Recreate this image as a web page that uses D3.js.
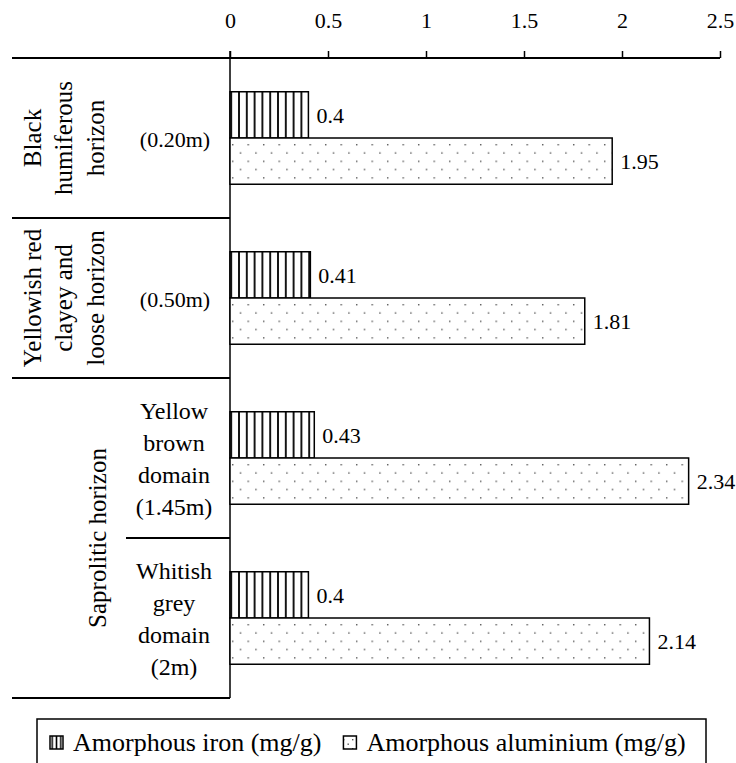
<!DOCTYPE html>
<html>
<head>
<meta charset="utf-8">
<script src="https://cdn.jsdelivr.net/npm/d3@7"></script>
<style>
  body { margin: 0; background: #fff; }
  svg { display: block; font-family: "Liberation Serif", "Times New Roman", serif; }
</style>
</head>
<body>
<div id="chart"></div>
<script>
// soil profile rows (top to bottom)
const rows = ["r1", "r2", "r3", "r4"];
const rowLabels = [["(0.20m)"], ["(0.50m)"], ["Yellow", "brown", "domain", "(1.45m)"], ["Whitish", "grey", "domain", "(2m)"]];
const horizons = [["Black", "humiferous", "horizon"], ["Yellowish red", "clayey and", "loose horizon"], ["Saprolitic horizon"]];
const horizonRows = [1, 1, 2];
const series = ["Amorphous iron (mg/g)", "Amorphous aluminium (mg/g)"];
const ironValues = [0.4, 0.41, 0.43, 0.4];
const aluminiumValues = [1.95, 1.81, 2.34, 2.14];
const xTicks = [0, 0.5, 1, 1.5, 2, 2.5];

const width = 736, height = 763;
const mLeft = 12, axisX = 230, mRight = 720, mTop = 58, mBottom = 698;

const svg = d3.select("#chart").append("svg")
	.attr("width", width)
	.attr("height", height);

const defs = svg.append("defs");

function addStripes(id, x0, step, w) {
	const p = defs.append("pattern")
		.attr("id", id)
		.attr("patternUnits", "userSpaceOnUse")
		.attr("x", x0)
		.attr("width", step)
		.attr("height", 10);
	p.append("rect").attr("width", step).attr("height", 10).attr("fill", "#fff");
	p.append("rect").attr("x", (step - w) / 2).attr("width", w).attr("height", 10).attr("fill", "#000");
}

function addDots(id, x0, y0, w, h) {
	const p = defs.append("pattern")
		.attr("id", id)
		.attr("patternUnits", "userSpaceOnUse")
		.attr("x", x0)
		.attr("y", y0)
		.attr("width", w)
		.attr("height", h);
	p.append("rect").attr("width", w).attr("height", h).attr("fill", "#fff");
	p.append("rect").attr("x", 1).attr("y", 1).attr("width", 1.4).attr("height", 1.4).attr("fill", "#555");
	p.append("rect").attr("x", w / 2 + 1).attr("y", h / 2 + 1).attr("width", 1.4).attr("height", 1.4).attr("fill", "#555");
}

// bar fills
addStripes("stripes", 235.1, 7.8, 1.8);
addDots("dots", 231, 2, 15.5, 16.6);
// legend swatch fills
addStripes("stripesLeg", 50, 4.33, 1.5);
addDots("dotsLeg", 0, 0, 9, 9);

const fills = ["url(#stripes)", "url(#dots)"];
const legFills = ["url(#stripesLeg)", "url(#dotsLeg)"];

const x = d3.scaleLinear().domain([0, 2.5]).range([axisX, mRight]);
const y0 = d3.scaleBand().domain(rows).range([mTop, mBottom]).padding(0);
const y1 = d3.scaleBand().domain(series).range([0, y0.bandwidth()]).paddingInner(0).paddingOuter(0.73);

const data = rows.map((r, i) => ({ row: r, values: [ironValues[i], aluminiumValues[i]] }));

// top axis
const axis = d3.axisTop(x)
	.tickValues(xTicks)
	.tickFormat(d3.format("~g"))
	.tickSize(7)
	.tickPadding(23);

const ax = svg.append("g")
	.attr("transform", `translate(0,${mTop})`)
	.call(axis);
ax.select(".domain").remove();
ax.selectAll(".tick line").attr("stroke", "#000").attr("stroke-width", 1.5);
ax.selectAll(".tick text").attr("font-size", 22).attr("font-family", "Liberation Serif").attr("fill", "#000");

svg.append("line")
	.attr("x1", mLeft).attr("x2", mRight)
	.attr("y1", mTop).attr("y2", mTop)
	.attr("stroke", "#000").attr("stroke-width", 2);

// vertical zero line
svg.append("line")
	.attr("x1", x(0)).attr("x2", x(0))
	.attr("y1", mTop - 7).attr("y2", mBottom)
	.attr("stroke", "#000").attr("stroke-width", 1.5);

// bars
const groups = svg.selectAll(".row")
	.data(data)
	.enter().append("g")
	.attr("transform", d => `translate(0,${y0(d.row)})`);

groups.selectAll("rect")
	.data(d => d.values.map((v, i) => ({ key: series[i], value: v, i })))
	.enter().append("rect")
	.attr("x", x(0))
	.attr("y", d => y1(d.key))
	.attr("width", d => x(d.value) - x(0))
	.attr("height", y1.bandwidth())
	.attr("fill", d => fills[d.i])
	.attr("stroke", "#000")
	.attr("stroke-width", 1.5);

groups.selectAll(".val")
	.data(d => d.values.map((v, i) => ({ key: series[i], value: v })))
	.enter().append("text")
	.attr("x", d => x(d.value) + 8)
	.attr("y", d => y1(d.key) + y1.bandwidth() / 2)
	.attr("dy", "0.35em")
	.attr("font-size", 22)
	.text(d => d.value);

// row labels (depth / domain)
rowLabels.forEach((lines, i) => {
	const cy = y0(rows[i]) + y0.bandwidth() / 2 + 1;
	const lh = 32;
	const t = svg.append("text")
		.attr("text-anchor", "middle")
		.attr("font-size", lines.length > 1 ? 24 : 22);
	lines.forEach((s, j) => {
		t.append("tspan")
			.attr("x", lines.length > 1 ? 174 : 175)
			.attr("y", cy + (j - (lines.length - 1) / 2) * lh)
			.attr("dy", "0.35em")
			.text(s);
	});
});

// horizon labels, rotated
let start = 0;
horizons.forEach((lines, k) => {
	const n = horizonRows[k];
	const yTop = y0(rows[start]);
	const yBot = y0(rows[start + n - 1]) + y0.bandwidth();
	const cy = (yTop + yBot) / 2;
	const lh = 31.5;
	const cx = lines.length === 1 ? 97 : 63.5;
	const t = svg.append("text")
		.attr("text-anchor", "middle")
		.attr("font-size", 25)
		.attr("transform", `translate(${cx},${cy}) rotate(-90)`);
	lines.forEach((s, j) => {
		t.append("tspan")
			.attr("x", 0)
			.attr("y", (j - (lines.length - 1) / 2) * lh)
			.attr("dy", "0.35em")
			.text(s);
	});
	// separator under each horizon
	svg.append("line")
		.attr("x1", mLeft).attr("x2", x(0))
		.attr("y1", yBot).attr("y2", yBot)
		.attr("stroke", "#000").attr("stroke-width", 2);
	// inner row dividers inside a horizon
	for (let r = 1; r < n; r++) {
		const yy = y0(rows[start + r]);
		svg.append("line")
			.attr("x1", 126).attr("x2", x(0))
			.attr("y1", yy).attr("y2", yy)
			.attr("stroke", "#000").attr("stroke-width", 2);
	}
	start += n;
});

// legend
const leg = svg.append("g");
leg.append("rect")
	.attr("x", 37).attr("y", 719)
	.attr("width", 706 - 37).attr("height", 60)
	.attr("fill", "none").attr("stroke", "#000").attr("stroke-width", 1.5);

let lx = 50;
series.forEach((s, i) => {
	leg.append("rect")
		.attr("x", lx).attr("y", 736)
		.attr("width", 13).attr("height", 13)
		.attr("fill", legFills[i])
		.attr("stroke", "#000").attr("stroke-width", 1.5);
	const t = leg.append("text")
		.attr("x", lx + 23)
		.attr("y", 742)
		.attr("dy", "0.35em")
		.attr("font-size", 26)
		.text(s);
	lx = lx + 23 + t.node().getComputedTextLength() + 22;
});
</script>
</body>
</html>
